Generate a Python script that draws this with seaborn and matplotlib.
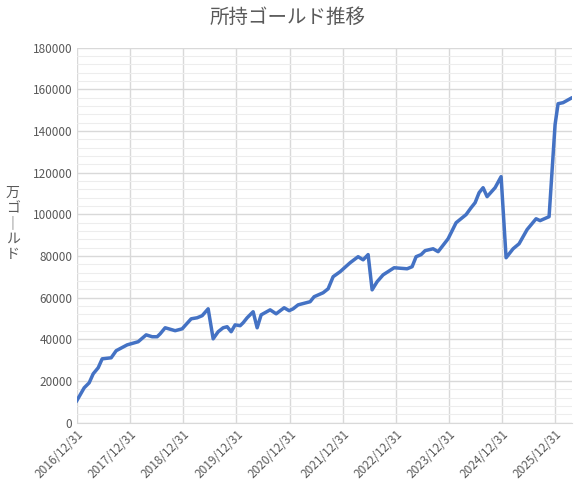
import matplotlib
matplotlib.use("Agg")
import matplotlib.pyplot as plt
import matplotlib.dates as mdates
from matplotlib.ticker import MultipleLocator
import seaborn as sns
import pandas as pd
import numpy as np

# pixel-read x positions converted to years elapsed since 2016/12/31
x_px = [76,84,89,93,98,102,111,116,127,138,146,152,157,160,165,175,182,191,197,202,208,213,218,223,227,231,235,240,243,247,253,257,261,270,276,284,289,293,298,310,314,323,328,333,340,350,358,363,368,372,377,383,394,407,412,416,421,425,433,438,448,456,466,471,475,479,483,487,495,501,506,513,519,527,536,540,549,555,558,563,572]
gold = [10.1,16.8,19.2,23.5,26.4,30.7,31.2,34.6,37.4,38.9,42.2,41.3,41.3,42.7,45.6,44.2,45.1,49.9,50.4,51.4,54.7,40.3,43.7,45.6,46.1,43.7,47.0,46.6,48.0,50.4,53.3,45.6,51.8,54.2,52.3,55.2,53.8,54.7,56.6,58.1,60.5,62.4,64.3,70.1,72.5,76.8,79.7,78.2,80.7,63.8,67.7,71.0,74.4,73.9,74.9,79.7,80.7,82.6,83.5,82.1,88.3,96.0,99.9,103.2,105.6,110.4,112.8,108.5,112.8,118.1,79.2,83.5,85.9,92.7,97.9,97.0,98.9,143.1,153.1,153.6,156.0]
years_elapsed = [(p - 77) / 53.1 for p in x_px]
tick_labels = [f"{y}/12/31" for y in range(2016, 2026)]

base = pd.Timestamp("2016-12-31")
df = pd.DataFrame({
    "date": [base + pd.Timedelta(days=t * 365.25) for t in years_elapsed],
    "gold": [g * 1000 for g in gold],
})

sns.set_style("white")
plt.rcParams["font.family"] = ["Noto Sans CJK JP", "DejaVu Sans"]

fig = plt.figure(figsize=(5.76, 4.86), dpi=100)
ax = fig.add_axes([0.134, 0.13, 0.859, 0.772])
sns.lineplot(data=df, x="date", y="gold", ax=ax, color="#4472C4", linewidth=2.5)

ax.set_ylim(0, 180000)
ax.set_xlim(base, base + pd.Timedelta(days=9.32 * 365.25))
ax.yaxis.set_major_locator(MultipleLocator(20000))
ax.yaxis.set_minor_locator(MultipleLocator(4000))
ticks = [pd.Timestamp(f"{y}-12-31") for y in range(2016, 2026)]
ax.set_xticks(ticks)
ax.set_xticklabels(tick_labels, rotation=45, ha="right", rotation_mode="anchor", color="#595959", fontsize=8.5)
ax.tick_params(axis="y", labelcolor="#595959", labelsize=8.5, length=0)
ax.tick_params(axis="x", length=0)
ax.grid(True, which="major", color="#D9D9D9", linewidth=1)
ax.grid(True, which="minor", axis="y", color="#EDEDED", linewidth=0.8)
for s in ["top", "right", "left"]:
    ax.spines[s].set_visible(False)
ax.spines["bottom"].set_color("#D9D9D9")
ax.set_xlabel("")
ax.set_ylabel("")
fig.text(0.5, 0.965, "所持ゴールド推移", ha="center", va="center", fontsize=14, color="#595959")
fig.text(0.022, 0.54, "万\nゴ\n｜\nル\nド", ha="center", va="center", fontsize=10, color="#595959", linespacing=1.1)
fig.savefig("out.png", dpi=100)
